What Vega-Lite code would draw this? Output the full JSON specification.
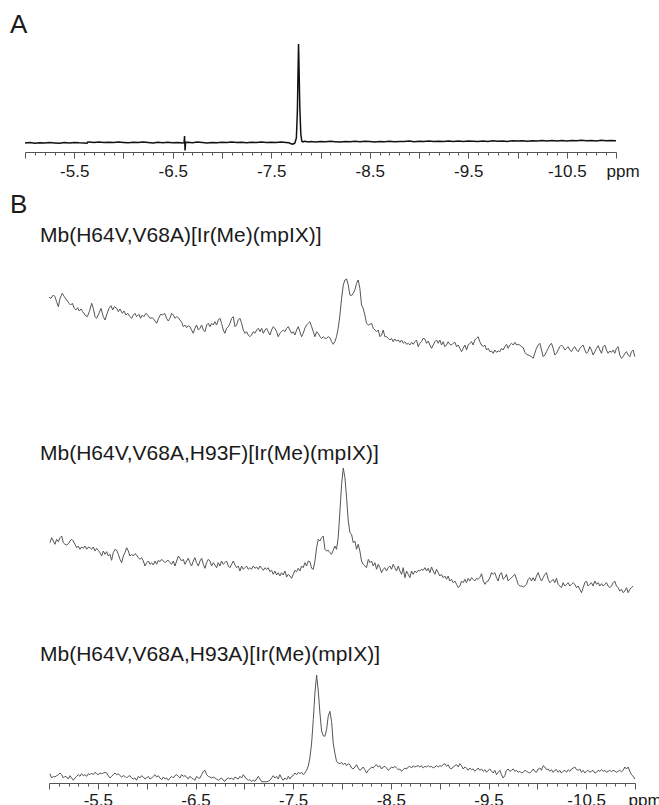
{
"$schema":"https://vega.github.io/schema/vega-lite/v6.json",
"padding":{"top":12,"left":0,"right":0,"bottom":0},
"spacing":13,
"config":{"view":{"stroke":null},"font":"Liberation Sans","title":{"anchor":"start","frame":"group","fontWeight":"normal","color":"#1a1a1a","font":"Liberation Sans"},"axis":{"grid":false,"labelFont":"Liberation Sans","labelFontSize":17,"labelColor":"#1a1a1a","labelOverlap":false,"labelFlush":false,"domainColor":"#555","tickColor":"#555","titleFont":"Liberation Sans","titleFontSize":17,"titleFontWeight":"normal","titleColor":"#1a1a1a"}},
"datasets":{
"a":[{"ppm":-5.0,"signal":9.0},{"ppm":-5.05,"signal":9.4},{"ppm":-5.1,"signal":8.8},{"ppm":-5.15,"signal":9.3},{"ppm":-5.2,"signal":8.9},{"ppm":-5.25,"signal":9.5},{"ppm":-5.3,"signal":9.1},{"ppm":-5.35,"signal":8.7},{"ppm":-5.4,"signal":9.4},{"ppm":-5.45,"signal":9.0},{"ppm":-5.5,"signal":9.6},{"ppm":-5.55,"signal":9.2},{"ppm":-5.6,"signal":9.0},{"ppm":-5.63,"signal":8.8},{"ppm":-5.64,"signal":10.2},{"ppm":-5.65,"signal":9.9},{"ppm":-5.7,"signal":9.6},{"ppm":-5.75,"signal":10.0},{"ppm":-5.8,"signal":9.4},{"ppm":-5.85,"signal":9.8},{"ppm":-5.9,"signal":9.5},{"ppm":-5.95,"signal":10.1},{"ppm":-6.0,"signal":9.6},{"ppm":-6.05,"signal":9.2},{"ppm":-6.1,"signal":9.8},{"ppm":-6.15,"signal":9.4},{"ppm":-6.2,"signal":10.0},{"ppm":-6.25,"signal":9.6},{"ppm":-6.3,"signal":9.1},{"ppm":-6.35,"signal":9.7},{"ppm":-6.4,"signal":9.3},{"ppm":-6.45,"signal":9.8},{"ppm":-6.5,"signal":9.2},{"ppm":-6.55,"signal":9.6},{"ppm":-6.6,"signal":9.0},{"ppm":-6.615,"signal":9.4},{"ppm":-6.62,"signal":16.0},{"ppm":-6.625,"signal":1.5},{"ppm":-6.63,"signal":9.6},{"ppm":-6.65,"signal":9.8},{"ppm":-6.7,"signal":9.3},{"ppm":-6.75,"signal":9.9},{"ppm":-6.8,"signal":9.5},{"ppm":-6.85,"signal":9.0},{"ppm":-6.9,"signal":9.6},{"ppm":-6.95,"signal":9.2},{"ppm":-7.0,"signal":9.8},{"ppm":-7.05,"signal":9.5},{"ppm":-7.1,"signal":10.0},{"ppm":-7.15,"signal":9.4},{"ppm":-7.2,"signal":9.8},{"ppm":-7.25,"signal":9.3},{"ppm":-7.3,"signal":9.7},{"ppm":-7.35,"signal":9.5},{"ppm":-7.4,"signal":9.9},{"ppm":-7.45,"signal":9.4},{"ppm":-7.5,"signal":9.8},{"ppm":-7.55,"signal":9.5},{"ppm":-7.6,"signal":9.9},{"ppm":-7.65,"signal":9.6},{"ppm":-7.68,"signal":9.2},{"ppm":-7.7,"signal":8.2},{"ppm":-7.72,"signal":7.8},{"ppm":-7.74,"signal":9.0},{"ppm":-7.755,"signal":14},{"ppm":-7.765,"signal":40},{"ppm":-7.772,"signal":80},{"ppm":-7.777,"signal":108},{"ppm":-7.782,"signal":85},{"ppm":-7.79,"signal":45},{"ppm":-7.8,"signal":18},{"ppm":-7.81,"signal":11},{"ppm":-7.82,"signal":10.2},{"ppm":-7.84,"signal":10.8},{"ppm":-7.88,"signal":10.0},{"ppm":-7.9,"signal":10.5},{"ppm":-7.95,"signal":10.1},{"ppm":-8.0,"signal":10.6},{"ppm":-8.05,"signal":10.2},{"ppm":-8.1,"signal":10.7},{"ppm":-8.15,"signal":10.3},{"ppm":-8.2,"signal":10.0},{"ppm":-8.25,"signal":10.6},{"ppm":-8.3,"signal":10.2},{"ppm":-8.35,"signal":10.7},{"ppm":-8.4,"signal":10.3},{"ppm":-8.45,"signal":10.8},{"ppm":-8.5,"signal":10.4},{"ppm":-8.55,"signal":10.0},{"ppm":-8.6,"signal":10.6},{"ppm":-8.65,"signal":10.3},{"ppm":-8.7,"signal":10.8},{"ppm":-8.75,"signal":10.2},{"ppm":-8.8,"signal":10.6},{"ppm":-8.85,"signal":10.4},{"ppm":-8.9,"signal":10.9},{"ppm":-8.95,"signal":10.3},{"ppm":-9.0,"signal":10.7},{"ppm":-9.05,"signal":10.4},{"ppm":-9.1,"signal":10.9},{"ppm":-9.15,"signal":10.5},{"ppm":-9.2,"signal":10.8},{"ppm":-9.25,"signal":10.4},{"ppm":-9.3,"signal":11.0},{"ppm":-9.35,"signal":10.6},{"ppm":-9.4,"signal":10.9},{"ppm":-9.45,"signal":10.5},{"ppm":-9.5,"signal":11.1},{"ppm":-9.55,"signal":10.7},{"ppm":-9.6,"signal":10.4},{"ppm":-9.65,"signal":11.0},{"ppm":-9.7,"signal":10.6},{"ppm":-9.75,"signal":11.2},{"ppm":-9.8,"signal":10.8},{"ppm":-9.85,"signal":11.1},{"ppm":-9.9,"signal":10.6},{"ppm":-9.95,"signal":11.2},{"ppm":-10.0,"signal":10.9},{"ppm":-10.05,"signal":11.3},{"ppm":-10.1,"signal":10.8},{"ppm":-10.15,"signal":11.2},{"ppm":-10.2,"signal":10.9},{"ppm":-10.25,"signal":11.5},{"ppm":-10.3,"signal":11.0},{"ppm":-10.35,"signal":11.4},{"ppm":-10.4,"signal":11.0},{"ppm":-10.45,"signal":11.6},{"ppm":-10.5,"signal":11.1},{"ppm":-10.55,"signal":11.5},{"ppm":-10.6,"signal":11.2},{"ppm":-10.65,"signal":11.7},{"ppm":-10.7,"signal":11.3},{"ppm":-10.75,"signal":11.6},{"ppm":-10.8,"signal":11.1},{"ppm":-10.85,"signal":11.7},{"ppm":-10.9,"signal":11.2},{"ppm":-10.95,"signal":11.6},{"ppm":-11.0,"signal":11.3}],
"s1":[{"ppm":-5.0,"signal":67.7},{"ppm":-5.02,"signal":66.7},{"ppm":-5.044,"signal":70.0},{"ppm":-5.061,"signal":68.3},{"ppm":-5.078,"signal":63.3},{"ppm":-5.096,"signal":58.3},{"ppm":-5.113,"signal":66.7},{"ppm":-5.136,"signal":71.7},{"ppm":-5.157,"signal":68.3},{"ppm":-5.181,"signal":65.0},{"ppm":-5.205,"signal":61.7},{"ppm":-5.222,"signal":60.0},{"ppm":-5.239,"signal":61.7},{"ppm":-5.259,"signal":56.7},{"ppm":-5.276,"signal":55.0},{"ppm":-5.293,"signal":57.3},{"ppm":-5.31,"signal":54.0},{"ppm":-5.328,"signal":56.0},{"ppm":-5.345,"signal":53.3},{"ppm":-5.368,"signal":50.0},{"ppm":-5.392,"signal":48.3},{"ppm":-5.413,"signal":53.3},{"ppm":-5.437,"signal":61.7},{"ppm":-5.454,"signal":56.7},{"ppm":-5.471,"signal":48.3},{"ppm":-5.488,"signal":46.7},{"ppm":-5.512,"signal":51.7},{"ppm":-5.532,"signal":56.7},{"ppm":-5.556,"signal":48.3},{"ppm":-5.573,"signal":45.0},{"ppm":-5.59,"signal":50.0},{"ppm":-5.614,"signal":56.7},{"ppm":-5.635,"signal":59.3},{"ppm":-5.652,"signal":55.0},{"ppm":-5.669,"signal":58.3},{"ppm":-5.693,"signal":56.7},{"ppm":-5.71,"signal":53.3},{"ppm":-5.727,"signal":56.0},{"ppm":-5.751,"signal":51.7},{"ppm":-5.768,"signal":54.0},{"ppm":-5.788,"signal":50.0},{"ppm":-5.805,"signal":51.7},{"ppm":-5.829,"signal":48.3},{"ppm":-5.846,"signal":46.7},{"ppm":-5.863,"signal":50.0},{"ppm":-5.88,"signal":51.7},{"ppm":-5.897,"signal":48.3},{"ppm":-5.921,"signal":50.7},{"ppm":-5.938,"signal":46.7},{"ppm":-5.955,"signal":50.0},{"ppm":-5.972,"signal":48.3},{"ppm":-5.993,"signal":51.7},{"ppm":-6.01,"signal":50.0},{"ppm":-6.034,"signal":46.7},{"ppm":-6.058,"signal":47.3},{"ppm":-6.078,"signal":45.0},{"ppm":-6.102,"signal":41.7},{"ppm":-6.122,"signal":46.7},{"ppm":-6.143,"signal":50.7},{"ppm":-6.163,"signal":50.0},{"ppm":-6.184,"signal":51.7},{"ppm":-6.204,"signal":46.7},{"ppm":-6.221,"signal":44.0},{"ppm":-6.238,"signal":46.7},{"ppm":-6.256,"signal":51.7},{"ppm":-6.273,"signal":50.0},{"ppm":-6.29,"signal":46.7},{"ppm":-6.307,"signal":48.3},{"ppm":-6.324,"signal":47.3},{"ppm":-6.341,"signal":45.0},{"ppm":-6.358,"signal":42.7},{"ppm":-6.375,"signal":38.3},{"ppm":-6.392,"signal":40.0},{"ppm":-6.409,"signal":37.3},{"ppm":-6.426,"signal":39.3},{"ppm":-6.443,"signal":38.3},{"ppm":-6.46,"signal":35.0},{"ppm":-6.477,"signal":31.7},{"ppm":-6.494,"signal":36.7},{"ppm":-6.511,"signal":40.0},{"ppm":-6.529,"signal":35.0},{"ppm":-6.546,"signal":36.7},{"ppm":-6.563,"signal":40.0},{"ppm":-6.58,"signal":35.0},{"ppm":-6.597,"signal":33.3},{"ppm":-6.614,"signal":40.0},{"ppm":-6.631,"signal":41.7},{"ppm":-6.648,"signal":38.3},{"ppm":-6.665,"signal":41.7},{"ppm":-6.682,"signal":40.0},{"ppm":-6.699,"signal":43.3},{"ppm":-6.716,"signal":40.0},{"ppm":-6.733,"signal":45.0},{"ppm":-6.75,"signal":46.7},{"ppm":-6.767,"signal":41.7},{"ppm":-6.784,"signal":35.0},{"ppm":-6.801,"signal":31.7},{"ppm":-6.818,"signal":36.7},{"ppm":-6.836,"signal":38.3},{"ppm":-6.853,"signal":41.7},{"ppm":-6.87,"signal":46.7},{"ppm":-6.887,"signal":48.3},{"ppm":-6.904,"signal":38.3},{"ppm":-6.921,"signal":40.0},{"ppm":-6.938,"signal":45.0},{"ppm":-6.955,"signal":46.7},{"ppm":-6.972,"signal":41.7},{"ppm":-6.989,"signal":35.0},{"ppm":-7.006,"signal":31.7},{"ppm":-7.023,"signal":33.3},{"ppm":-7.04,"signal":30.0},{"ppm":-7.057,"signal":28.3},{"ppm":-7.074,"signal":30.0},{"ppm":-7.091,"signal":33.3},{"ppm":-7.109,"signal":31.7},{"ppm":-7.126,"signal":35.0},{"ppm":-7.143,"signal":36.7},{"ppm":-7.16,"signal":33.3},{"ppm":-7.177,"signal":36.7},{"ppm":-7.194,"signal":31.7},{"ppm":-7.211,"signal":35.0},{"ppm":-7.228,"signal":36.7},{"ppm":-7.245,"signal":33.3},{"ppm":-7.262,"signal":30.0},{"ppm":-7.279,"signal":35.0},{"ppm":-7.296,"signal":38.3},{"ppm":-7.313,"signal":36.7},{"ppm":-7.33,"signal":33.3},{"ppm":-7.347,"signal":28.3},{"ppm":-7.364,"signal":31.7},{"ppm":-7.381,"signal":33.3},{"ppm":-7.398,"signal":35.0},{"ppm":-7.416,"signal":33.3},{"ppm":-7.433,"signal":36.7},{"ppm":-7.45,"signal":38.3},{"ppm":-7.467,"signal":35.0},{"ppm":-7.484,"signal":31.7},{"ppm":-7.501,"signal":33.3},{"ppm":-7.518,"signal":30.0},{"ppm":-7.535,"signal":35.0},{"ppm":-7.552,"signal":38.3},{"ppm":-7.569,"signal":33.3},{"ppm":-7.586,"signal":28.3},{"ppm":-7.603,"signal":31.7},{"ppm":-7.62,"signal":36.7},{"ppm":-7.637,"signal":40.0},{"ppm":-7.654,"signal":41.7},{"ppm":-7.671,"signal":43.3},{"ppm":-7.689,"signal":38.3},{"ppm":-7.706,"signal":33.3},{"ppm":-7.723,"signal":28.3},{"ppm":-7.74,"signal":33.3},{"ppm":-7.757,"signal":31.7},{"ppm":-7.774,"signal":28.3},{"ppm":-7.791,"signal":26.7},{"ppm":-7.808,"signal":28.3},{"ppm":-7.825,"signal":26.7},{"ppm":-7.842,"signal":26.7},{"ppm":-7.859,"signal":28.3},{"ppm":-7.876,"signal":27.3},{"ppm":-7.893,"signal":23.3},{"ppm":-7.91,"signal":20.7},{"ppm":-7.927,"signal":23.3},{"ppm":-7.944,"signal":28.3},{"ppm":-7.961,"signal":36.7},{"ppm":-7.979,"signal":50.0},{"ppm":-7.996,"signal":66.7},{"ppm":-8.013,"signal":80.0},{"ppm":-8.03,"signal":85.0},{"ppm":-8.047,"signal":86.0},{"ppm":-8.064,"signal":80.0},{"ppm":-8.081,"signal":70.0},{"ppm":-8.098,"signal":69.3},{"ppm":-8.115,"signal":71.7},{"ppm":-8.132,"signal":75.0},{"ppm":-8.149,"signal":81.7},{"ppm":-8.166,"signal":85.0},{"ppm":-8.183,"signal":76.7},{"ppm":-8.2,"signal":60.0},{"ppm":-8.217,"signal":56.7},{"ppm":-8.234,"signal":50.0},{"ppm":-8.251,"signal":41.7},{"ppm":-8.269,"signal":40.0},{"ppm":-8.286,"signal":40.7},{"ppm":-8.303,"signal":41.7},{"ppm":-8.32,"signal":36.7},{"ppm":-8.337,"signal":35.0},{"ppm":-8.354,"signal":33.3},{"ppm":-8.371,"signal":35.0},{"ppm":-8.388,"signal":28.3},{"ppm":-8.405,"signal":30.0},{"ppm":-8.422,"signal":35.0},{"ppm":-8.439,"signal":28.3},{"ppm":-8.456,"signal":28.3},{"ppm":-8.473,"signal":26.7},{"ppm":-8.49,"signal":25.0},{"ppm":-8.507,"signal":26.7},{"ppm":-8.524,"signal":23.3},{"ppm":-8.541,"signal":26.0},{"ppm":-8.558,"signal":24.0},{"ppm":-8.576,"signal":25.0},{"ppm":-8.593,"signal":22.7},{"ppm":-8.61,"signal":25.0},{"ppm":-8.627,"signal":21.7},{"ppm":-8.644,"signal":23.3},{"ppm":-8.661,"signal":20.7},{"ppm":-8.678,"signal":21.7},{"ppm":-8.695,"signal":20.0},{"ppm":-8.712,"signal":22.7},{"ppm":-8.729,"signal":20.7},{"ppm":-8.746,"signal":23.3},{"ppm":-8.763,"signal":25.0},{"ppm":-8.78,"signal":18.3},{"ppm":-8.797,"signal":21.7},{"ppm":-8.814,"signal":23.3},{"ppm":-8.831,"signal":26.7},{"ppm":-8.849,"signal":26.0},{"ppm":-8.866,"signal":21.7},{"ppm":-8.883,"signal":24.0},{"ppm":-8.9,"signal":20.0},{"ppm":-8.917,"signal":16.7},{"ppm":-8.934,"signal":20.0},{"ppm":-8.951,"signal":23.3},{"ppm":-8.968,"signal":25.0},{"ppm":-8.985,"signal":21.7},{"ppm":-9.002,"signal":25.0},{"ppm":-9.019,"signal":20.0},{"ppm":-9.036,"signal":23.3},{"ppm":-9.053,"signal":18.3},{"ppm":-9.07,"signal":20.0},{"ppm":-9.087,"signal":23.3},{"ppm":-9.104,"signal":20.7},{"ppm":-9.121,"signal":20.0},{"ppm":-9.138,"signal":21.7},{"ppm":-9.156,"signal":22.7},{"ppm":-9.173,"signal":18.3},{"ppm":-9.19,"signal":20.0},{"ppm":-9.207,"signal":16.7},{"ppm":-9.224,"signal":13.3},{"ppm":-9.241,"signal":16.7},{"ppm":-9.258,"signal":20.0},{"ppm":-9.275,"signal":15.0},{"ppm":-9.292,"signal":20.0},{"ppm":-9.309,"signal":21.7},{"ppm":-9.326,"signal":23.3},{"ppm":-9.343,"signal":20.0},{"ppm":-9.36,"signal":25.0},{"ppm":-9.377,"signal":26.7},{"ppm":-9.394,"signal":28.3},{"ppm":-9.411,"signal":23.3},{"ppm":-9.429,"signal":20.0},{"ppm":-9.446,"signal":18.3},{"ppm":-9.463,"signal":20.0},{"ppm":-9.48,"signal":15.0},{"ppm":-9.497,"signal":16.7},{"ppm":-9.514,"signal":13.3},{"ppm":-9.531,"signal":14.0},{"ppm":-9.548,"signal":11.7},{"ppm":-9.565,"signal":15.0},{"ppm":-9.582,"signal":12.7},{"ppm":-9.599,"signal":14.0},{"ppm":-9.616,"signal":13.3},{"ppm":-9.633,"signal":16.7},{"ppm":-9.65,"signal":15.0},{"ppm":-9.667,"signal":18.3},{"ppm":-9.684,"signal":20.7},{"ppm":-9.701,"signal":16.7},{"ppm":-9.718,"signal":20.0},{"ppm":-9.736,"signal":21.7},{"ppm":-9.753,"signal":20.0},{"ppm":-9.77,"signal":22.7},{"ppm":-9.787,"signal":20.0},{"ppm":-9.804,"signal":20.7},{"ppm":-9.821,"signal":20.0},{"ppm":-9.838,"signal":18.3},{"ppm":-9.855,"signal":17.3},{"ppm":-9.872,"signal":12.7},{"ppm":-9.889,"signal":10.7},{"ppm":-9.906,"signal":10.0},{"ppm":-9.923,"signal":9.3},{"ppm":-9.94,"signal":8.3},{"ppm":-9.957,"signal":6.7},{"ppm":-9.974,"signal":11.7},{"ppm":-9.991,"signal":16.7},{"ppm":-10.009,"signal":20.0},{"ppm":-10.026,"signal":21.7},{"ppm":-10.043,"signal":15.0},{"ppm":-10.06,"signal":8.3},{"ppm":-10.077,"signal":10.0},{"ppm":-10.094,"signal":13.3},{"ppm":-10.111,"signal":16.7},{"ppm":-10.128,"signal":20.0},{"ppm":-10.145,"signal":21.7},{"ppm":-10.162,"signal":16.7},{"ppm":-10.179,"signal":10.0},{"ppm":-10.196,"signal":11.7},{"ppm":-10.213,"signal":15.0},{"ppm":-10.23,"signal":18.3},{"ppm":-10.247,"signal":20.0},{"ppm":-10.264,"signal":18.3},{"ppm":-10.282,"signal":15.0},{"ppm":-10.299,"signal":16.7},{"ppm":-10.316,"signal":18.3},{"ppm":-10.333,"signal":15.0},{"ppm":-10.35,"signal":13.3},{"ppm":-10.367,"signal":16.7},{"ppm":-10.384,"signal":18.3},{"ppm":-10.401,"signal":15.0},{"ppm":-10.418,"signal":13.3},{"ppm":-10.435,"signal":16.7},{"ppm":-10.452,"signal":18.3},{"ppm":-10.469,"signal":20.0},{"ppm":-10.486,"signal":15.0},{"ppm":-10.503,"signal":11.7},{"ppm":-10.52,"signal":13.3},{"ppm":-10.537,"signal":18.3},{"ppm":-10.554,"signal":15.0},{"ppm":-10.571,"signal":10.0},{"ppm":-10.589,"signal":13.3},{"ppm":-10.606,"signal":16.7},{"ppm":-10.623,"signal":19.3},{"ppm":-10.64,"signal":15.0},{"ppm":-10.657,"signal":11.7},{"ppm":-10.674,"signal":18.3},{"ppm":-10.691,"signal":20.0},{"ppm":-10.708,"signal":15.0},{"ppm":-10.725,"signal":11.7},{"ppm":-10.742,"signal":14.0},{"ppm":-10.759,"signal":12.7},{"ppm":-10.776,"signal":15.0},{"ppm":-10.793,"signal":11.7},{"ppm":-10.81,"signal":16.7},{"ppm":-10.827,"signal":18.3},{"ppm":-10.844,"signal":10.0},{"ppm":-10.862,"signal":6.7},{"ppm":-10.879,"signal":8.3},{"ppm":-10.896,"signal":11.7},{"ppm":-10.913,"signal":13.3},{"ppm":-10.93,"signal":10.0},{"ppm":-10.947,"signal":8.3},{"ppm":-10.964,"signal":13.3},{"ppm":-10.981,"signal":15.0},{"ppm":-10.998,"signal":8.3}],
"s2":[{"ppm":-5.01,"signal":58.3},{"ppm":-5.027,"signal":63.3},{"ppm":-5.044,"signal":60.0},{"ppm":-5.061,"signal":56.7},{"ppm":-5.078,"signal":61.7},{"ppm":-5.096,"signal":59.3},{"ppm":-5.113,"signal":63.3},{"ppm":-5.13,"signal":65.0},{"ppm":-5.147,"signal":58.3},{"ppm":-5.164,"signal":56.7},{"ppm":-5.181,"signal":56.0},{"ppm":-5.198,"signal":57.3},{"ppm":-5.215,"signal":60.0},{"ppm":-5.232,"signal":61.7},{"ppm":-5.249,"signal":60.0},{"ppm":-5.266,"signal":56.7},{"ppm":-5.283,"signal":53.3},{"ppm":-5.3,"signal":55.0},{"ppm":-5.317,"signal":51.7},{"ppm":-5.334,"signal":54.0},{"ppm":-5.351,"signal":52.7},{"ppm":-5.368,"signal":55.0},{"ppm":-5.386,"signal":51.7},{"ppm":-5.403,"signal":54.0},{"ppm":-5.42,"signal":53.3},{"ppm":-5.437,"signal":51.7},{"ppm":-5.454,"signal":54.0},{"ppm":-5.471,"signal":50.0},{"ppm":-5.488,"signal":52.7},{"ppm":-5.505,"signal":50.7},{"ppm":-5.522,"signal":48.3},{"ppm":-5.539,"signal":45.0},{"ppm":-5.556,"signal":50.0},{"ppm":-5.573,"signal":46.7},{"ppm":-5.59,"signal":49.3},{"ppm":-5.607,"signal":45.0},{"ppm":-5.624,"signal":46.7},{"ppm":-5.641,"signal":40.7},{"ppm":-5.658,"signal":48.3},{"ppm":-5.676,"signal":51.7},{"ppm":-5.693,"signal":50.7},{"ppm":-5.71,"signal":46.7},{"ppm":-5.727,"signal":41.7},{"ppm":-5.744,"signal":38.3},{"ppm":-5.761,"signal":45.0},{"ppm":-5.778,"signal":48.3},{"ppm":-5.795,"signal":53.3},{"ppm":-5.812,"signal":50.0},{"ppm":-5.829,"signal":45.0},{"ppm":-5.846,"signal":46.7},{"ppm":-5.863,"signal":45.0},{"ppm":-5.88,"signal":47.3},{"ppm":-5.897,"signal":46.0},{"ppm":-5.914,"signal":43.3},{"ppm":-5.931,"signal":41.7},{"ppm":-5.948,"signal":43.3},{"ppm":-5.966,"signal":40.0},{"ppm":-5.983,"signal":35.0},{"ppm":-6.0,"signal":38.3},{"ppm":-6.017,"signal":40.0},{"ppm":-6.034,"signal":36.7},{"ppm":-6.051,"signal":38.3},{"ppm":-6.068,"signal":36.0},{"ppm":-6.085,"signal":40.0},{"ppm":-6.102,"signal":36.7},{"ppm":-6.119,"signal":40.7},{"ppm":-6.136,"signal":39.3},{"ppm":-6.154,"signal":41.7},{"ppm":-6.171,"signal":40.0},{"ppm":-6.188,"signal":38.3},{"ppm":-6.205,"signal":40.0},{"ppm":-6.222,"signal":40.7},{"ppm":-6.239,"signal":38.3},{"ppm":-6.256,"signal":36.7},{"ppm":-6.273,"signal":40.0},{"ppm":-6.29,"signal":35.0},{"ppm":-6.307,"signal":40.0},{"ppm":-6.324,"signal":45.0},{"ppm":-6.341,"signal":42.7},{"ppm":-6.358,"signal":40.0},{"ppm":-6.375,"signal":41.7},{"ppm":-6.392,"signal":36.7},{"ppm":-6.409,"signal":40.0},{"ppm":-6.426,"signal":42.7},{"ppm":-6.443,"signal":38.3},{"ppm":-6.46,"signal":35.0},{"ppm":-6.477,"signal":40.0},{"ppm":-6.494,"signal":43.3},{"ppm":-6.511,"signal":38.3},{"ppm":-6.529,"signal":35.0},{"ppm":-6.546,"signal":40.0},{"ppm":-6.563,"signal":42.7},{"ppm":-6.58,"signal":36.7},{"ppm":-6.597,"signal":32.7},{"ppm":-6.614,"signal":38.3},{"ppm":-6.631,"signal":41.7},{"ppm":-6.648,"signal":40.0},{"ppm":-6.665,"signal":35.0},{"ppm":-6.682,"signal":38.3},{"ppm":-6.699,"signal":36.0},{"ppm":-6.716,"signal":33.3},{"ppm":-6.733,"signal":38.3},{"ppm":-6.75,"signal":35.0},{"ppm":-6.767,"signal":40.0},{"ppm":-6.784,"signal":36.7},{"ppm":-6.801,"signal":38.3},{"ppm":-6.818,"signal":40.0},{"ppm":-6.836,"signal":35.0},{"ppm":-6.853,"signal":33.3},{"ppm":-6.87,"signal":36.7},{"ppm":-6.887,"signal":40.0},{"ppm":-6.904,"signal":36.0},{"ppm":-6.921,"signal":33.3},{"ppm":-6.938,"signal":35.0},{"ppm":-6.955,"signal":30.0},{"ppm":-6.972,"signal":35.0},{"ppm":-6.989,"signal":31.7},{"ppm":-7.006,"signal":33.3},{"ppm":-7.023,"signal":35.0},{"ppm":-7.04,"signal":31.7},{"ppm":-7.057,"signal":33.3},{"ppm":-7.074,"signal":31.7},{"ppm":-7.091,"signal":35.0},{"ppm":-7.109,"signal":32.7},{"ppm":-7.126,"signal":34.0},{"ppm":-7.143,"signal":31.7},{"ppm":-7.16,"signal":35.0},{"ppm":-7.177,"signal":32.7},{"ppm":-7.194,"signal":30.7},{"ppm":-7.211,"signal":33.3},{"ppm":-7.228,"signal":31.7},{"ppm":-7.245,"signal":33.3},{"ppm":-7.262,"signal":29.3},{"ppm":-7.279,"signal":30.7},{"ppm":-7.296,"signal":26.7},{"ppm":-7.313,"signal":30.0},{"ppm":-7.33,"signal":26.0},{"ppm":-7.347,"signal":28.3},{"ppm":-7.364,"signal":25.0},{"ppm":-7.381,"signal":28.3},{"ppm":-7.398,"signal":26.0},{"ppm":-7.416,"signal":30.0},{"ppm":-7.433,"signal":24.0},{"ppm":-7.45,"signal":26.7},{"ppm":-7.467,"signal":25.0},{"ppm":-7.484,"signal":22.7},{"ppm":-7.501,"signal":26.7},{"ppm":-7.518,"signal":30.7},{"ppm":-7.535,"signal":29.3},{"ppm":-7.552,"signal":32.7},{"ppm":-7.569,"signal":30.0},{"ppm":-7.586,"signal":35.0},{"ppm":-7.603,"signal":33.3},{"ppm":-7.62,"signal":38.3},{"ppm":-7.637,"signal":35.0},{"ppm":-7.654,"signal":40.0},{"ppm":-7.671,"signal":39.3},{"ppm":-7.689,"signal":32.7},{"ppm":-7.706,"signal":31.7},{"ppm":-7.723,"signal":40.0},{"ppm":-7.74,"signal":53.3},{"ppm":-7.757,"signal":61.7},{"ppm":-7.774,"signal":60.0},{"ppm":-7.791,"signal":63.3},{"ppm":-7.808,"signal":65.0},{"ppm":-7.825,"signal":51.7},{"ppm":-7.842,"signal":50.0},{"ppm":-7.859,"signal":50.7},{"ppm":-7.876,"signal":48.3},{"ppm":-7.893,"signal":46.7},{"ppm":-7.91,"signal":50.7},{"ppm":-7.927,"signal":55.0},{"ppm":-7.944,"signal":51.7},{"ppm":-7.961,"signal":63.3},{"ppm":-7.979,"signal":90.0},{"ppm":-7.996,"signal":116.7},{"ppm":-8.013,"signal":133.0},{"ppm":-8.03,"signal":123.3},{"ppm":-8.047,"signal":103.3},{"ppm":-8.064,"signal":80.0},{"ppm":-8.081,"signal":68.3},{"ppm":-8.098,"signal":66.7},{"ppm":-8.115,"signal":58.3},{"ppm":-8.132,"signal":60.0},{"ppm":-8.149,"signal":51.7},{"ppm":-8.166,"signal":56.7},{"ppm":-8.183,"signal":50.0},{"ppm":-8.2,"signal":40.0},{"ppm":-8.217,"signal":36.7},{"ppm":-8.234,"signal":35.0},{"ppm":-8.251,"signal":33.3},{"ppm":-8.269,"signal":41.7},{"ppm":-8.286,"signal":38.3},{"ppm":-8.303,"signal":40.0},{"ppm":-8.32,"signal":35.0},{"ppm":-8.337,"signal":38.3},{"ppm":-8.354,"signal":31.7},{"ppm":-8.371,"signal":36.7},{"ppm":-8.388,"signal":33.3},{"ppm":-8.405,"signal":28.3},{"ppm":-8.422,"signal":31.7},{"ppm":-8.439,"signal":33.3},{"ppm":-8.456,"signal":30.0},{"ppm":-8.473,"signal":33.3},{"ppm":-8.49,"signal":35.0},{"ppm":-8.507,"signal":31.7},{"ppm":-8.524,"signal":36.7},{"ppm":-8.541,"signal":33.3},{"ppm":-8.558,"signal":30.0},{"ppm":-8.576,"signal":35.0},{"ppm":-8.593,"signal":30.0},{"ppm":-8.61,"signal":26.7},{"ppm":-8.627,"signal":33.3},{"ppm":-8.644,"signal":23.3},{"ppm":-8.661,"signal":30.0},{"ppm":-8.678,"signal":26.7},{"ppm":-8.695,"signal":23.3},{"ppm":-8.712,"signal":30.0},{"ppm":-8.729,"signal":26.7},{"ppm":-8.746,"signal":30.0},{"ppm":-8.763,"signal":28.3},{"ppm":-8.78,"signal":30.7},{"ppm":-8.797,"signal":30.0},{"ppm":-8.814,"signal":31.7},{"ppm":-8.831,"signal":30.7},{"ppm":-8.849,"signal":33.3},{"ppm":-8.866,"signal":30.0},{"ppm":-8.883,"signal":32.7},{"ppm":-8.9,"signal":28.3},{"ppm":-8.917,"signal":34.0},{"ppm":-8.934,"signal":30.0},{"ppm":-8.951,"signal":26.7},{"ppm":-8.968,"signal":31.7},{"ppm":-8.985,"signal":28.3},{"ppm":-9.002,"signal":25.0},{"ppm":-9.019,"signal":26.7},{"ppm":-9.036,"signal":23.3},{"ppm":-9.053,"signal":25.0},{"ppm":-9.07,"signal":21.7},{"ppm":-9.087,"signal":25.0},{"ppm":-9.104,"signal":20.0},{"ppm":-9.121,"signal":21.7},{"ppm":-9.138,"signal":18.3},{"ppm":-9.156,"signal":20.0},{"ppm":-9.173,"signal":16.7},{"ppm":-9.19,"signal":13.3},{"ppm":-9.207,"signal":15.0},{"ppm":-9.224,"signal":20.0},{"ppm":-9.241,"signal":18.3},{"ppm":-9.258,"signal":21.7},{"ppm":-9.275,"signal":18.3},{"ppm":-9.292,"signal":22.7},{"ppm":-9.309,"signal":20.0},{"ppm":-9.326,"signal":23.3},{"ppm":-9.343,"signal":21.7},{"ppm":-9.36,"signal":20.0},{"ppm":-9.377,"signal":22.7},{"ppm":-9.394,"signal":21.7},{"ppm":-9.411,"signal":23.3},{"ppm":-9.429,"signal":27.3},{"ppm":-9.446,"signal":20.0},{"ppm":-9.463,"signal":16.7},{"ppm":-9.48,"signal":19.3},{"ppm":-9.497,"signal":20.0},{"ppm":-9.514,"signal":23.3},{"ppm":-9.531,"signal":28.3},{"ppm":-9.548,"signal":26.7},{"ppm":-9.565,"signal":28.3},{"ppm":-9.582,"signal":23.3},{"ppm":-9.599,"signal":20.0},{"ppm":-9.616,"signal":26.7},{"ppm":-9.633,"signal":28.3},{"ppm":-9.65,"signal":21.7},{"ppm":-9.667,"signal":23.3},{"ppm":-9.684,"signal":26.7},{"ppm":-9.701,"signal":20.0},{"ppm":-9.718,"signal":21.7},{"ppm":-9.736,"signal":23.3},{"ppm":-9.753,"signal":25.0},{"ppm":-9.77,"signal":26.7},{"ppm":-9.787,"signal":21.7},{"ppm":-9.804,"signal":16.7},{"ppm":-9.821,"signal":15.0},{"ppm":-9.838,"signal":15.0},{"ppm":-9.855,"signal":14.0},{"ppm":-9.872,"signal":15.0},{"ppm":-9.889,"signal":16.7},{"ppm":-9.906,"signal":21.7},{"ppm":-9.923,"signal":23.3},{"ppm":-9.94,"signal":20.0},{"ppm":-9.957,"signal":23.3},{"ppm":-9.974,"signal":20.0},{"ppm":-9.991,"signal":25.0},{"ppm":-10.009,"signal":28.3},{"ppm":-10.026,"signal":23.3},{"ppm":-10.043,"signal":20.0},{"ppm":-10.06,"signal":23.3},{"ppm":-10.077,"signal":26.7},{"ppm":-10.094,"signal":28.3},{"ppm":-10.111,"signal":21.7},{"ppm":-10.128,"signal":18.3},{"ppm":-10.145,"signal":20.0},{"ppm":-10.162,"signal":21.7},{"ppm":-10.179,"signal":18.3},{"ppm":-10.196,"signal":22.7},{"ppm":-10.213,"signal":16.7},{"ppm":-10.23,"signal":15.0},{"ppm":-10.247,"signal":13.3},{"ppm":-10.264,"signal":18.3},{"ppm":-10.282,"signal":15.0},{"ppm":-10.299,"signal":16.7},{"ppm":-10.316,"signal":18.3},{"ppm":-10.333,"signal":15.0},{"ppm":-10.35,"signal":16.7},{"ppm":-10.367,"signal":18.3},{"ppm":-10.384,"signal":16.7},{"ppm":-10.401,"signal":13.3},{"ppm":-10.418,"signal":15.0},{"ppm":-10.435,"signal":11.7},{"ppm":-10.452,"signal":8.3},{"ppm":-10.469,"signal":13.3},{"ppm":-10.486,"signal":18.3},{"ppm":-10.503,"signal":20.0},{"ppm":-10.52,"signal":15.0},{"ppm":-10.537,"signal":16.7},{"ppm":-10.554,"signal":18.3},{"ppm":-10.571,"signal":15.0},{"ppm":-10.589,"signal":20.0},{"ppm":-10.606,"signal":16.7},{"ppm":-10.623,"signal":18.3},{"ppm":-10.64,"signal":15.0},{"ppm":-10.657,"signal":17.3},{"ppm":-10.674,"signal":15.0},{"ppm":-10.691,"signal":16.7},{"ppm":-10.708,"signal":18.3},{"ppm":-10.725,"signal":15.0},{"ppm":-10.742,"signal":13.3},{"ppm":-10.759,"signal":15.0},{"ppm":-10.776,"signal":18.3},{"ppm":-10.793,"signal":20.0},{"ppm":-10.81,"signal":15.0},{"ppm":-10.827,"signal":13.3},{"ppm":-10.844,"signal":10.0},{"ppm":-10.862,"signal":11.7},{"ppm":-10.879,"signal":8.3},{"ppm":-10.896,"signal":10.0},{"ppm":-10.913,"signal":13.3},{"ppm":-10.93,"signal":8.3},{"ppm":-10.947,"signal":11.7},{"ppm":-10.964,"signal":13.3},{"ppm":-10.981,"signal":15.0}],
"s3":[{"ppm":-5.01,"signal":9.3},{"ppm":-5.027,"signal":5.0},{"ppm":-5.044,"signal":6.7},{"ppm":-5.061,"signal":6.0},{"ppm":-5.078,"signal":7.3},{"ppm":-5.096,"signal":8.3},{"ppm":-5.113,"signal":10.0},{"ppm":-5.13,"signal":8.3},{"ppm":-5.147,"signal":5.0},{"ppm":-5.164,"signal":6.7},{"ppm":-5.181,"signal":6.0},{"ppm":-5.198,"signal":4.0},{"ppm":-5.215,"signal":7.3},{"ppm":-5.232,"signal":5.0},{"ppm":-5.249,"signal":2.7},{"ppm":-5.266,"signal":5.0},{"ppm":-5.283,"signal":6.7},{"ppm":-5.3,"signal":8.3},{"ppm":-5.317,"signal":6.7},{"ppm":-5.334,"signal":9.3},{"ppm":-5.351,"signal":7.3},{"ppm":-5.368,"signal":8.3},{"ppm":-5.386,"signal":6.7},{"ppm":-5.403,"signal":9.3},{"ppm":-5.42,"signal":8.3},{"ppm":-5.437,"signal":10.0},{"ppm":-5.454,"signal":8.3},{"ppm":-5.471,"signal":10.7},{"ppm":-5.488,"signal":9.3},{"ppm":-5.505,"signal":8.3},{"ppm":-5.522,"signal":10.0},{"ppm":-5.539,"signal":9.3},{"ppm":-5.556,"signal":10.0},{"ppm":-5.573,"signal":10.7},{"ppm":-5.59,"signal":10.0},{"ppm":-5.607,"signal":7.3},{"ppm":-5.624,"signal":5.0},{"ppm":-5.641,"signal":6.7},{"ppm":-5.658,"signal":8.3},{"ppm":-5.676,"signal":10.0},{"ppm":-5.693,"signal":8.3},{"ppm":-5.71,"signal":9.3},{"ppm":-5.727,"signal":7.3},{"ppm":-5.744,"signal":6.0},{"ppm":-5.761,"signal":7.3},{"ppm":-5.778,"signal":6.7},{"ppm":-5.795,"signal":5.0},{"ppm":-5.812,"signal":6.7},{"ppm":-5.829,"signal":7.3},{"ppm":-5.846,"signal":5.0},{"ppm":-5.863,"signal":4.0},{"ppm":-5.88,"signal":5.0},{"ppm":-5.897,"signal":2.7},{"ppm":-5.914,"signal":6.7},{"ppm":-5.931,"signal":5.0},{"ppm":-5.948,"signal":7.3},{"ppm":-5.966,"signal":6.0},{"ppm":-5.983,"signal":4.0},{"ppm":-6.0,"signal":5.0},{"ppm":-6.017,"signal":6.7},{"ppm":-6.034,"signal":4.0},{"ppm":-6.051,"signal":5.0},{"ppm":-6.068,"signal":6.7},{"ppm":-6.085,"signal":8.3},{"ppm":-6.102,"signal":6.0},{"ppm":-6.119,"signal":7.3},{"ppm":-6.136,"signal":5.0},{"ppm":-6.154,"signal":3.3},{"ppm":-6.171,"signal":6.0},{"ppm":-6.188,"signal":4.0},{"ppm":-6.205,"signal":5.0},{"ppm":-6.222,"signal":2.7},{"ppm":-6.239,"signal":5.0},{"ppm":-6.256,"signal":6.7},{"ppm":-6.273,"signal":5.0},{"ppm":-6.29,"signal":7.3},{"ppm":-6.307,"signal":8.3},{"ppm":-6.324,"signal":6.7},{"ppm":-6.341,"signal":5.0},{"ppm":-6.358,"signal":8.3},{"ppm":-6.375,"signal":6.7},{"ppm":-6.392,"signal":7.3},{"ppm":-6.409,"signal":6.0},{"ppm":-6.426,"signal":4.0},{"ppm":-6.443,"signal":6.7},{"ppm":-6.46,"signal":5.0},{"ppm":-6.477,"signal":4.0},{"ppm":-6.494,"signal":2.7},{"ppm":-6.511,"signal":6.7},{"ppm":-6.529,"signal":5.0},{"ppm":-6.546,"signal":5.0},{"ppm":-6.563,"signal":8.3},{"ppm":-6.58,"signal":11.7},{"ppm":-6.597,"signal":12.7},{"ppm":-6.614,"signal":8.3},{"ppm":-6.631,"signal":6.7},{"ppm":-6.648,"signal":6.0},{"ppm":-6.665,"signal":5.0},{"ppm":-6.682,"signal":6.0},{"ppm":-6.699,"signal":5.0},{"ppm":-6.716,"signal":4.0},{"ppm":-6.733,"signal":2.7},{"ppm":-6.75,"signal":4.0},{"ppm":-6.767,"signal":5.0},{"ppm":-6.784,"signal":2.7},{"ppm":-6.801,"signal":1.7},{"ppm":-6.818,"signal":4.0},{"ppm":-6.836,"signal":5.0},{"ppm":-6.853,"signal":4.0},{"ppm":-6.87,"signal":5.0},{"ppm":-6.887,"signal":3.3},{"ppm":-6.904,"signal":6.0},{"ppm":-6.921,"signal":5.0},{"ppm":-6.938,"signal":4.0},{"ppm":-6.955,"signal":6.7},{"ppm":-6.972,"signal":5.0},{"ppm":-6.989,"signal":8.3},{"ppm":-7.006,"signal":6.0},{"ppm":-7.023,"signal":4.0},{"ppm":-7.04,"signal":2.7},{"ppm":-7.057,"signal":3.3},{"ppm":-7.074,"signal":1.7},{"ppm":-7.091,"signal":2.7},{"ppm":-7.109,"signal":1.7},{"ppm":-7.126,"signal":4.0},{"ppm":-7.143,"signal":6.7},{"ppm":-7.16,"signal":4.0},{"ppm":-7.177,"signal":1.3},{"ppm":-7.194,"signal":1.3},{"ppm":-7.211,"signal":1.3},{"ppm":-7.228,"signal":1.3},{"ppm":-7.245,"signal":1.7},{"ppm":-7.262,"signal":2.7},{"ppm":-7.279,"signal":5.0},{"ppm":-7.296,"signal":7.3},{"ppm":-7.313,"signal":5.0},{"ppm":-7.33,"signal":6.7},{"ppm":-7.347,"signal":4.0},{"ppm":-7.364,"signal":8.3},{"ppm":-7.381,"signal":5.0},{"ppm":-7.398,"signal":2.7},{"ppm":-7.416,"signal":5.0},{"ppm":-7.433,"signal":3.3},{"ppm":-7.45,"signal":6.7},{"ppm":-7.467,"signal":4.0},{"ppm":-7.484,"signal":6.7},{"ppm":-7.501,"signal":7.3},{"ppm":-7.518,"signal":10.0},{"ppm":-7.535,"signal":8.3},{"ppm":-7.552,"signal":10.7},{"ppm":-7.569,"signal":9.3},{"ppm":-7.586,"signal":10.7},{"ppm":-7.603,"signal":8.3},{"ppm":-7.62,"signal":10.0},{"ppm":-7.637,"signal":12.7},{"ppm":-7.654,"signal":16.7},{"ppm":-7.671,"signal":25.0},{"ppm":-7.689,"signal":40.0},{"ppm":-7.706,"signal":63.3},{"ppm":-7.723,"signal":90.0},{"ppm":-7.74,"signal":108.0},{"ppm":-7.757,"signal":92.0},{"ppm":-7.774,"signal":70.0},{"ppm":-7.791,"signal":52.0},{"ppm":-7.808,"signal":47.3},{"ppm":-7.825,"signal":46.7},{"ppm":-7.842,"signal":53.3},{"ppm":-7.859,"signal":66.7},{"ppm":-7.876,"signal":71.7},{"ppm":-7.893,"signal":61.7},{"ppm":-7.91,"signal":40.0},{"ppm":-7.927,"signal":30.0},{"ppm":-7.944,"signal":21.7},{"ppm":-7.961,"signal":20.0},{"ppm":-7.979,"signal":19.3},{"ppm":-7.996,"signal":20.7},{"ppm":-8.013,"signal":18.3},{"ppm":-8.03,"signal":20.0},{"ppm":-8.047,"signal":17.3},{"ppm":-8.064,"signal":19.3},{"ppm":-8.081,"signal":18.3},{"ppm":-8.098,"signal":15.0},{"ppm":-8.115,"signal":14.0},{"ppm":-8.132,"signal":16.0},{"ppm":-8.149,"signal":18.3},{"ppm":-8.166,"signal":15.0},{"ppm":-8.183,"signal":12.7},{"ppm":-8.2,"signal":14.0},{"ppm":-8.217,"signal":16.0},{"ppm":-8.234,"signal":13.3},{"ppm":-8.251,"signal":10.0},{"ppm":-8.269,"signal":12.7},{"ppm":-8.286,"signal":14.0},{"ppm":-8.303,"signal":16.0},{"ppm":-8.32,"signal":15.0},{"ppm":-8.337,"signal":17.3},{"ppm":-8.354,"signal":18.3},{"ppm":-8.371,"signal":16.0},{"ppm":-8.388,"signal":17.3},{"ppm":-8.405,"signal":14.0},{"ppm":-8.422,"signal":16.0},{"ppm":-8.439,"signal":16.7},{"ppm":-8.456,"signal":15.0},{"ppm":-8.473,"signal":12.7},{"ppm":-8.49,"signal":14.0},{"ppm":-8.507,"signal":16.0},{"ppm":-8.524,"signal":15.0},{"ppm":-8.541,"signal":16.7},{"ppm":-8.558,"signal":15.0},{"ppm":-8.576,"signal":13.3},{"ppm":-8.593,"signal":14.0},{"ppm":-8.61,"signal":11.7},{"ppm":-8.627,"signal":13.3},{"ppm":-8.644,"signal":15.0},{"ppm":-8.661,"signal":14.0},{"ppm":-8.678,"signal":16.0},{"ppm":-8.695,"signal":16.7},{"ppm":-8.712,"signal":15.0},{"ppm":-8.729,"signal":17.3},{"ppm":-8.746,"signal":16.0},{"ppm":-8.763,"signal":16.7},{"ppm":-8.78,"signal":17.3},{"ppm":-8.797,"signal":16.0},{"ppm":-8.814,"signal":17.3},{"ppm":-8.831,"signal":15.0},{"ppm":-8.849,"signal":16.7},{"ppm":-8.866,"signal":16.0},{"ppm":-8.883,"signal":17.3},{"ppm":-8.9,"signal":16.0},{"ppm":-8.917,"signal":16.7},{"ppm":-8.934,"signal":15.0},{"ppm":-8.951,"signal":16.0},{"ppm":-8.968,"signal":17.3},{"ppm":-8.985,"signal":16.0},{"ppm":-9.002,"signal":17.3},{"ppm":-9.019,"signal":16.7},{"ppm":-9.036,"signal":18.3},{"ppm":-9.053,"signal":19.3},{"ppm":-9.07,"signal":16.7},{"ppm":-9.087,"signal":18.3},{"ppm":-9.104,"signal":15.0},{"ppm":-9.121,"signal":14.0},{"ppm":-9.138,"signal":16.0},{"ppm":-9.156,"signal":17.3},{"ppm":-9.173,"signal":18.3},{"ppm":-9.19,"signal":16.0},{"ppm":-9.207,"signal":19.3},{"ppm":-9.224,"signal":17.3},{"ppm":-9.241,"signal":14.0},{"ppm":-9.258,"signal":16.0},{"ppm":-9.275,"signal":15.0},{"ppm":-9.292,"signal":12.7},{"ppm":-9.309,"signal":15.0},{"ppm":-9.326,"signal":13.3},{"ppm":-9.343,"signal":14.0},{"ppm":-9.36,"signal":11.7},{"ppm":-9.377,"signal":13.3},{"ppm":-9.394,"signal":15.0},{"ppm":-9.411,"signal":12.7},{"ppm":-9.429,"signal":14.0},{"ppm":-9.446,"signal":11.7},{"ppm":-9.463,"signal":13.3},{"ppm":-9.48,"signal":10.7},{"ppm":-9.497,"signal":12.7},{"ppm":-9.514,"signal":14.0},{"ppm":-9.531,"signal":11.7},{"ppm":-9.548,"signal":10.0},{"ppm":-9.565,"signal":12.7},{"ppm":-9.582,"signal":8.3},{"ppm":-9.599,"signal":10.7},{"ppm":-9.616,"signal":12.7},{"ppm":-9.633,"signal":8.3},{"ppm":-9.65,"signal":5.0},{"ppm":-9.667,"signal":7.3},{"ppm":-9.684,"signal":12.7},{"ppm":-9.701,"signal":14.0},{"ppm":-9.718,"signal":11.7},{"ppm":-9.736,"signal":12.7},{"ppm":-9.753,"signal":14.0},{"ppm":-9.77,"signal":11.7},{"ppm":-9.787,"signal":12.7},{"ppm":-9.804,"signal":10.7},{"ppm":-9.821,"signal":11.7},{"ppm":-9.838,"signal":10.0},{"ppm":-9.855,"signal":10.7},{"ppm":-9.872,"signal":12.7},{"ppm":-9.889,"signal":11.7},{"ppm":-9.906,"signal":10.7},{"ppm":-9.923,"signal":10.0},{"ppm":-9.94,"signal":11.7},{"ppm":-9.957,"signal":14.0},{"ppm":-9.974,"signal":11.7},{"ppm":-9.991,"signal":10.7},{"ppm":-10.009,"signal":14.0},{"ppm":-10.026,"signal":15.0},{"ppm":-10.043,"signal":12.7},{"ppm":-10.06,"signal":17.3},{"ppm":-10.077,"signal":16.0},{"ppm":-10.094,"signal":13.3},{"ppm":-10.111,"signal":14.0},{"ppm":-10.128,"signal":11.7},{"ppm":-10.145,"signal":13.3},{"ppm":-10.162,"signal":10.7},{"ppm":-10.179,"signal":12.7},{"ppm":-10.196,"signal":13.3},{"ppm":-10.213,"signal":10.7},{"ppm":-10.23,"signal":12.7},{"ppm":-10.247,"signal":10.0},{"ppm":-10.264,"signal":11.7},{"ppm":-10.282,"signal":12.7},{"ppm":-10.299,"signal":10.7},{"ppm":-10.316,"signal":13.3},{"ppm":-10.333,"signal":11.7},{"ppm":-10.35,"signal":14.0},{"ppm":-10.367,"signal":15.0},{"ppm":-10.384,"signal":16.0},{"ppm":-10.401,"signal":13.3},{"ppm":-10.418,"signal":12.7},{"ppm":-10.435,"signal":14.0},{"ppm":-10.452,"signal":10.7},{"ppm":-10.469,"signal":12.7},{"ppm":-10.486,"signal":10.0},{"ppm":-10.503,"signal":11.7},{"ppm":-10.52,"signal":12.7},{"ppm":-10.537,"signal":10.7},{"ppm":-10.554,"signal":11.7},{"ppm":-10.571,"signal":12.7},{"ppm":-10.589,"signal":10.0},{"ppm":-10.606,"signal":10.7},{"ppm":-10.623,"signal":12.7},{"ppm":-10.64,"signal":11.7},{"ppm":-10.657,"signal":13.3},{"ppm":-10.674,"signal":11.7},{"ppm":-10.691,"signal":12.7},{"ppm":-10.708,"signal":10.7},{"ppm":-10.725,"signal":11.7},{"ppm":-10.742,"signal":12.7},{"ppm":-10.759,"signal":11.3},{"ppm":-10.776,"signal":12.7},{"ppm":-10.793,"signal":12.0},{"ppm":-10.81,"signal":10.7},{"ppm":-10.827,"signal":11.7},{"ppm":-10.844,"signal":12.7},{"ppm":-10.862,"signal":11.3},{"ppm":-10.879,"signal":12.7},{"ppm":-10.896,"signal":16.0},{"ppm":-10.913,"signal":14.0},{"ppm":-10.93,"signal":16.0},{"ppm":-10.947,"signal":11.7},{"ppm":-10.964,"signal":8.3},{"ppm":-10.981,"signal":6.7},{"ppm":-10.998,"signal":4.0}]
},
"vconcat":[
{"width":659,"height":110,
 "title":{"text":"A","fontSize":26,"dx":10,"offset":3},
 "data":{"name":"a"},
 "mark":{"type":"line","color":"#111","strokeWidth":1.5},
 "encoding":{
  "x":{"field":"ppm","type":"quantitative","scale":{"domain":[-5,-11],"range":[25,616],"nice":false,"zero":false},
   "axis":{"values":[-5,-5.1,-5.2,-5.3,-5.4,-5.5,-5.6,-5.7,-5.8,-5.9,-6,-6.1,-6.2,-6.3,-6.4,-6.5,-6.6,-6.7,-6.8,-6.9,-7,-7.1,-7.2,-7.3,-7.4,-7.5,-7.6,-7.7,-7.8,-7.9,-8,-8.1,-8.2,-8.3,-8.4,-8.5,-8.6,-8.7,-8.8,-8.9,-9,-9.1,-9.2,-9.3,-9.4,-9.5,-9.6,-9.7,-9.8,-9.9,-10,-10.1,-10.2,-10.3,-10.4,-10.5,-10.6,-10.7,-10.8,-10.9,-11],
    "labelExpr":"abs(round(datum.value*10)) % 10 == 5 ? '-' + format(abs(datum.value), '.1f') : ''",
    "tickSize":{"condition":{"test":"abs(round(datum.value*10)) % 5 == 0","value":6},"value":3},
    "labelPadding":5,"title":"ppm","titleX":606,"titleY":11,"titleAlign":"left","titleBaseline":"top","titleAngle":0}},
  "y":{"field":"signal","type":"quantitative","scale":{"domain":[0,110],"nice":false,"zero":false},"axis":null}
 }
},
{"title":{"text":"B","fontSize":26,"dx":10,"offset":7},
 "spacing":0,
 "vconcat":[
 {"width":659,"height":178,
  "title":{"text":"Mb(H64V,V68A)[Ir(Me)(mpIX)]","fontSize":21,"dx":40,"offset":19},
  "data":{"name":"s1"},
  "mark":{"type":"line","color":"#555","strokeWidth":1},
  "encoding":{
   "x":{"field":"ppm","type":"quantitative","scale":{"domain":[-5,-11],"range":[49,635],"nice":false,"zero":false},"axis":null},
   "y":{"field":"signal","type":"quantitative","scale":{"domain":[-78,100],"nice":false,"zero":false},"axis":null}
  }
 },
 {"width":659,"height":173,
  "title":{"text":"Mb(H64V,V68A,H93F)[Ir(Me)(mpIX)]","fontSize":21,"dx":40,"offset":2},
  "data":{"name":"s2"},
  "mark":{"type":"line","color":"#555","strokeWidth":1},
  "encoding":{
   "x":{"field":"ppm","type":"quantitative","scale":{"domain":[-5,-11],"range":[49,635],"nice":false,"zero":false},"axis":null},
   "y":{"field":"signal","type":"quantitative","scale":{"domain":[-43,130],"nice":false,"zero":false},"axis":null}
  }
 },
 {"width":659,"height":112,
  "title":{"text":"Mb(H64V,V68A,H93A)[Ir(Me)(mpIX)]","fontSize":21,"dx":40,"offset":6},
  "data":{"name":"s3"},
  "mark":{"type":"line","color":"#555","strokeWidth":1},
  "encoding":{
   "x":{"field":"ppm","type":"quantitative","scale":{"domain":[-5,-11],"range":[49,635],"nice":false,"zero":false},
    "axis":{"values":[-5,-5.1,-5.2,-5.3,-5.4,-5.5,-5.6,-5.7,-5.8,-5.9,-6,-6.1,-6.2,-6.3,-6.4,-6.5,-6.6,-6.7,-6.8,-6.9,-7,-7.1,-7.2,-7.3,-7.4,-7.5,-7.6,-7.7,-7.8,-7.9,-8,-8.1,-8.2,-8.3,-8.4,-8.5,-8.6,-8.7,-8.8,-8.9,-9,-9.1,-9.2,-9.3,-9.4,-9.5,-9.6,-9.7,-9.8,-9.9,-10,-10.1,-10.2,-10.3,-10.4,-10.5,-10.6,-10.7,-10.8,-10.9,-11],
     "labelExpr":"abs(round(datum.value*10)) % 10 == 5 ? '-' + format(abs(datum.value), '.1f') : ''",
     "tickSize":{"condition":{"test":"abs(round(datum.value*10)) % 5 == 0","value":6},"value":3},
     "labelPadding":3,"title":"ppm","titleX":628,"titleY":9,"titleAlign":"left","titleBaseline":"top","titleAngle":0}},
   "y":{"field":"signal","type":"quantitative","scale":{"domain":[0,112],"nice":false,"zero":false},"axis":null}
  }
 }
 ]
}
]
}
